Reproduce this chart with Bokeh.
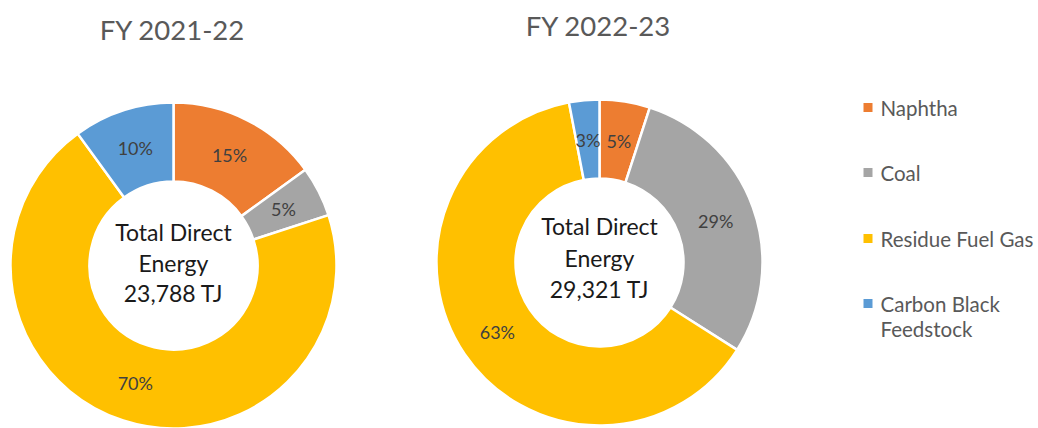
import math
from bokeh.plotting import figure
from bokeh.models import Range1d, ColumnDataSource
from bokeh.core.properties import value
from bokeh.embed import file_html
from bokeh.resources import INLINE

# ---- data ----
categories = ["Naphtha", "Coal", "Residue Fuel Gas", "Carbon Black Feedstock"]
legend_lines = [["Naphtha"], ["Coal"], ["Residue Fuel Gas"], ["Carbon Black", "Feedstock"]]
colors = ["#ED7D31", "#A5A5A5", "#FFC000", "#5B9BD5"]
years = ["FY 2021-22", "FY 2022-23"]
shares_2122 = [15, 5, 70, 10]
shares_2223 = [5, 29, 63, 3]
totals = ["23,788 TJ", "29,321 TJ"]
center_caption = ["Total Direct", "Energy"]

# ---- layout (screen px) ----
W, H = 1038, 428
FONT = "Lato"

def sx(x):
    return x

def sy(y):
    return H - y

p = figure(width=W, height=H, output_backend="svg", toolbar_location=None,
           x_range=Range1d(0, W), y_range=Range1d(0, H), min_border=0)
p.axis.visible = False
p.grid.visible = False
p.outline_line_color = None
p.background_fill_color = "white"
p.border_fill_color = "white"

centers = [(173, 265), (599, 262)]
title_pos = [(172, 29), (598, 25)]
center_text_y = [(231, 262, 292), (225, 257, 288)]
R_OUT, R_IN = 163, 84

for k, shares in enumerate([shares_2122, shares_2223]):
    cx, cy = centers[k]
    total = sum(shares)
    starts, ends, lx, ly, labels = [], [], [], [], []
    acc = 0.0
    for v in shares:
        t1 = acc / total * 2 * math.pi
        acc += v
        t2 = acc / total * 2 * math.pi
        starts.append(math.pi / 2 - t2)
        ends.append(math.pi / 2 - t1)
        tm = (t1 + t2) / 2
        rm = (R_OUT + R_IN) / 2
        lx.append(sx(cx) + rm * math.sin(tm))
        ly.append(sy(cy) + rm * math.cos(tm))
        labels.append(f"{v}%")
    src = ColumnDataSource(dict(start=starts, end=ends, color=colors,
                                x=[sx(cx)] * 4, y=[sy(cy)] * 4))
    p.annular_wedge(x="x", y="y", inner_radius=R_IN, outer_radius=R_OUT,
                    start_angle="start", end_angle="end", fill_color="color",
                    line_color="white", line_width=2.5, source=src)
    p.text(x=lx, y=ly, text=labels, text_align="center", text_baseline="middle",
           text_font=value(FONT), text_font_size="18px", text_color="#404040")
    # title
    p.text(x=[sx(title_pos[k][0])], y=[sy(title_pos[k][1])], text=[years[k]],
           text_align="center", text_baseline="middle", text_font=value(FONT),
           text_font_size="27.5px", text_color="#595959")
    # center text
    lines = center_caption + [totals[k]]
    p.text(x=[sx(cx)] * 3, y=[sy(v) for v in center_text_y[k]], text=lines,
           text_align="center", text_baseline="middle", text_font=value(FONT),
           text_font_size="23px", text_color="#1a1a1a")

# legend
leg_y = [107, 172, 238, 303]
line_gap = 25
for i, lines in enumerate(legend_lines):
    p.scatter(x=[sx(867.5)], y=[sy(leg_y[i])], marker="square", size=9,
              fill_color=colors[i], line_color=None)
    p.text(x=[sx(880)] * len(lines), y=[sy(leg_y[i] + j * line_gap) for j in range(len(lines))],
           text=lines, text_align="left", text_baseline="middle", text_font=value(FONT),
           text_font_size="20.5px", text_color="#595959")

open("out.html", "w").write(file_html(p, INLINE))
